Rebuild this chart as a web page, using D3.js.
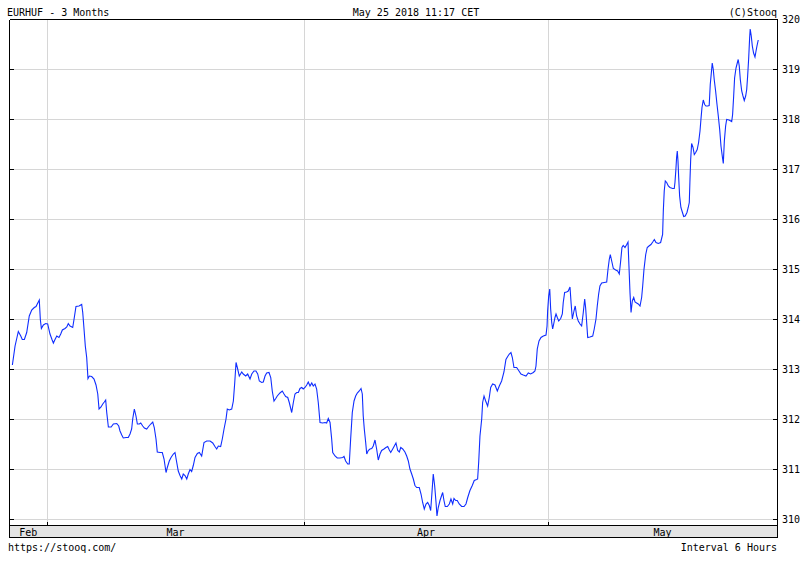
<!DOCTYPE html>
<html><head><meta charset="utf-8">
<script src="https://cdn.jsdelivr.net/npm/d3@7/dist/d3.min.js"></script>
<style>
html,body{margin:0;padding:0;background:#fff;}
svg{display:block;}
text{font-family:"DejaVu Sans Mono",monospace;font-size:10px;fill:#000;}
</style></head><body>
<svg id="chart" width="812" height="563"></svg>
<script>
// ---- texts ----
const title = "EURHUF - 3 Months";
const stamp = "May 25 2018 11:17 CET";
const credit = "(C)Stooq";
const source = "https://stooq.com/";
const interval = "Interval 6 Hours";

// ---- axes data ----
const monthLabels = ["Feb", "Mar", "Apr", "May"];
const monthStartDays = [3, 25, 46];          // trading-day index of Mar 1, Apr 2, May 1
const dayRange = [-0.29, 65.64];              // visible trading-day span
const rateRange = [310, 320];
const rateTicks = [310, 311, 312, 313, 314, 315, 316, 317, 318, 319, 320];

// ---- series (trading-day index, EUR/HUF rate) ----
const days = [
0.00,0.23,0.51,0.72,0.85,1.03,1.23,1.45,1.66,1.88,2.03,2.18,2.31,2.40,2.49,2.66,2.86,3.03,3.23,3.40,
3.52,3.66,3.81,4.00,4.15,4.29,4.52,4.67,4.80,4.95,5.18,5.29,5.46,5.72,5.95,6.04,6.15,6.26,6.38,6.49,
6.61,6.81,7.01,7.18,7.33,7.44,7.61,7.76,7.89,8.01,8.10,8.24,8.48,8.67,8.96,9.13,9.24,9.39,9.52,9.76,
9.95,10.10,10.24,10.33,10.47,10.61,10.73,10.90,11.02,11.19,11.33,11.53,11.73,11.88,12.05,12.18,12.33,12.44,12.67,12.87,
13.02,13.19,13.30,13.47,13.62,13.82,13.96,14.11,14.24,14.39,14.54,14.67,14.82,14.97,15.10,15.25,15.39,15.53,15.68,15.88,
16.05,16.25,16.45,16.68,16.97,17.20,17.39,17.54,17.68,17.88,18.02,18.17,18.34,18.45,18.62,18.83,18.97,19.09,19.20,19.31,
19.48,19.69,19.82,20.03,20.20,20.40,20.55,20.74,20.91,21.06,21.20,21.40,21.54,21.69,21.83,22.03,22.18,22.31,22.46,22.61,
22.74,22.97,23.17,23.32,23.46,23.64,23.77,23.98,24.12,24.26,24.41,24.55,24.69,24.84,24.97,25.12,25.27,25.40,25.55,25.70,
25.83,25.98,26.12,26.26,26.41,26.64,26.84,26.98,27.12,27.27,27.41,27.50,27.70,27.89,28.12,28.36,28.47,28.61,28.79,28.92,
29.04,29.18,29.33,29.47,29.61,29.78,29.93,30.04,30.12,30.21,30.33,30.42,30.55,30.70,30.85,30.98,31.13,31.27,31.41,31.56,
31.70,31.90,32.07,32.22,32.36,32.48,32.65,32.79,32.93,33.08,33.22,33.34,33.51,33.70,33.85,33.99,34.13,34.28,34.42,34.56,
34.71,34.93,35.08,35.22,35.36,35.51,35.65,35.79,35.91,36.02,36.13,36.25,36.37,36.45,36.56,36.71,36.85,36.94,37.05,37.16,
37.34,37.51,37.65,37.80,37.91,38.06,38.19,38.36,38.57,38.77,38.94,39.09,39.28,39.48,39.65,39.86,39.94,40.03,40.14,40.29,
40.37,40.49,40.63,40.80,40.94,41.06,41.23,41.43,41.63,41.80,42.00,42.20,42.37,42.52,42.66,42.80,42.92,43.06,43.29,43.49,
43.66,43.86,44.09,44.29,44.49,44.72,44.86,44.95,45.06,45.21,45.38,45.58,45.81,45.90,45.95,46.04,46.13,46.21,46.30,46.38,
46.47,46.58,46.67,46.78,46.90,47.07,47.21,47.29,47.41,47.58,47.72,47.87,47.96,48.07,48.21,48.32,48.44,48.58,48.73,48.87,
49.01,49.13,49.21,49.30,49.39,49.58,49.82,49.95,50.10,50.21,50.33,50.44,50.59,50.81,51.02,51.13,51.24,51.33,51.45,51.59,
51.79,51.96,52.10,52.22,52.33,52.44,52.59,52.74,52.85,52.93,53.02,53.11,53.22,53.34,53.45,53.59,53.73,53.88,54.02,54.11,
54.22,54.37,54.50,54.65,54.82,54.97,55.11,55.25,55.45,55.65,55.82,55.88,55.96,56.05,56.17,56.31,56.45,56.68,56.82,56.88,
56.96,57.02,57.08,57.14,57.20,57.28,57.39,57.51,57.63,57.76,57.91,58.02,58.11,58.17,58.23,58.31,58.43,58.54,58.66,58.79,
58.91,59.03,59.11,59.20,59.31,59.43,59.54,59.69,59.82,59.91,60.03,60.08,60.17,60.25,60.37,60.49,60.60,60.72,60.83,60.94,
61.03,61.12,61.23,61.32,61.52,61.75,61.83,61.92,62.00,62.12,62.23,62.31,62.40,62.49,62.61,62.72,62.83,62.95,63.04,63.12,
63.21,63.29,63.34,63.43,63.52,63.63,63.75,63.84,63.92,64.03
];
const rates = [
313.09,313.47,313.76,313.67,313.60,313.60,313.74,314.07,314.19,314.24,314.26,314.33,314.39,314.00,313.82,313.89,313.92,313.91,313.71,313.60,
313.53,313.60,313.67,313.64,313.71,313.79,313.82,313.85,313.92,313.87,313.84,314.00,314.26,314.27,314.30,314.14,313.81,313.47,313.24,312.82,
312.87,312.86,312.81,312.69,312.51,312.21,312.25,312.31,312.35,312.39,312.14,311.85,311.85,311.91,311.92,311.87,311.77,311.69,311.63,311.64,
311.64,311.71,311.81,312.01,312.21,312.07,311.91,311.91,311.93,311.87,311.83,311.81,311.87,311.91,311.95,311.84,311.61,311.35,311.34,311.34,
311.21,310.94,311.04,311.17,311.24,311.31,311.34,311.14,310.97,310.88,310.81,310.91,310.88,310.81,310.91,311.00,310.96,311.08,311.24,311.32,
311.34,311.27,311.54,311.57,311.57,311.53,311.46,311.41,311.47,311.46,311.61,311.81,312.01,312.21,312.19,312.21,312.37,312.74,313.14,313.04,
312.87,312.95,312.91,312.87,312.91,312.81,312.91,312.97,312.97,312.91,312.77,312.74,312.75,312.87,312.93,312.94,312.84,312.57,312.37,312.42,
312.47,312.53,312.57,312.51,312.46,312.44,312.34,312.14,312.34,312.51,312.54,312.54,312.62,312.64,312.61,312.64,312.69,312.75,312.67,312.73,
312.67,312.71,312.61,312.34,311.94,311.93,311.94,311.93,312.02,311.94,311.61,311.34,311.27,311.23,311.23,311.24,311.26,311.17,311.11,311.11,
311.61,312.14,312.37,312.47,312.53,312.57,312.62,312.51,312.07,311.81,311.54,311.31,311.38,311.41,311.42,311.47,311.59,311.41,311.19,311.31,
311.38,311.41,311.44,311.46,311.39,311.34,311.41,311.47,311.53,311.38,311.35,311.44,311.41,311.35,311.27,311.17,311.01,310.91,310.81,310.68,
310.64,310.64,310.51,310.34,310.21,310.31,310.34,310.28,310.18,310.54,310.91,310.68,310.34,310.07,310.24,310.38,310.48,310.54,310.38,310.26,
310.26,310.31,310.41,310.31,310.42,310.38,310.38,310.31,310.26,310.26,310.31,310.44,310.58,310.68,310.78,310.80,310.81,311.14,311.67,312.01,
312.34,312.47,312.37,312.27,312.44,312.64,312.71,312.69,312.57,312.67,312.77,312.95,313.20,313.26,313.31,313.34,313.24,313.04,313.04,312.97,
312.91,312.89,312.87,312.93,312.91,312.94,312.97,313.07,313.41,313.57,313.64,313.67,313.69,313.87,314.17,314.47,314.61,314.21,313.94,313.81,
313.91,314.04,314.11,314.04,313.97,314.02,314.11,314.34,314.54,314.55,314.57,314.65,314.34,314.01,314.17,314.27,314.07,313.97,313.91,313.87,
314.14,314.41,314.24,313.94,313.64,313.65,313.67,313.81,314.01,314.27,314.51,314.67,314.73,314.74,314.75,315.00,315.20,315.30,315.17,315.02,
314.99,314.97,314.91,315.17,315.44,315.48,315.44,315.50,315.55,315.07,314.54,314.14,314.37,314.44,314.35,314.33,314.31,314.27,314.44,314.67,
315.00,315.30,315.44,315.47,315.50,315.55,315.60,315.54,315.52,315.54,315.70,316.17,316.57,316.77,316.74,316.67,316.64,316.62,316.62,316.74,
317.00,317.24,317.37,317.17,316.84,316.47,316.24,316.15,316.06,316.07,316.14,316.24,316.34,316.80,317.20,317.52,317.44,317.30,317.34,317.40,
317.54,317.77,318.00,318.24,318.39,318.30,318.27,318.27,318.28,318.70,319.00,319.13,319.00,318.80,318.57,318.30,318.07,317.80,317.47,317.27,
317.12,317.57,317.87,318.00,317.99,317.96,318.10,318.47,318.83,319.03,319.13,319.20,319.07,318.80,318.57,318.47,318.38,318.47,318.60,318.87,
319.23,319.63,319.81,319.67,319.47,319.33,319.25,319.37,319.47,319.59
];

// ---- drawing ----
const svg = d3.select("#chart");
const L = 9, R = 777, T = 19, B = 525, bandB = 537;
const x = d3.scaleLinear().domain(dayRange).range([L, R]);
const y = d3.scaleLinear().domain(rateRange).range([B - 5.5, T + 0.5]);
const px = v => Math.round(v) + 0.5;

svg.append("rect").attr("x", 0).attr("y", 0).attr("width", 812).attr("height", 563).attr("fill", "#fff");

// month band
svg.append("rect").attr("x", L + 0.5).attr("y", B + 0.5).attr("width", R - L).attr("height", bandB - B)
  .attr("fill", "#e4e4e4");

// horizontal gridlines
svg.append("g").selectAll("line").data(rateTicks.filter(t => t < rateRange[1])).join("line")
  .attr("x1", L + 1).attr("x2", R)
  .attr("y1", d => px(y(d) - 0.5)).attr("y2", d => px(y(d) - 0.5))
  .attr("stroke", "#d6d6d6").attr("stroke-width", 1).attr("shape-rendering", "crispEdges");

// vertical gridlines at month starts
svg.append("g").selectAll("line").data(monthStartDays).join("line")
  .attr("x1", d => px(x(d))).attr("x2", d => px(x(d)))
  .attr("y1", T + 1).attr("y2", B)
  .attr("stroke", "#d6d6d6").attr("stroke-width", 1).attr("shape-rendering", "crispEdges");

// price line
const line = d3.line().x(i => x(days[i])).y(i => y(rates[i]));
svg.append("path").datum(d3.range(days.length)).attr("d", line)
  .attr("fill", "none").attr("stroke", "#0f2dff").attr("stroke-width", 1.1)
  .attr("stroke-linejoin", "miter");

// frame
const frame = svg.append("g").attr("stroke", "#000").attr("stroke-width", 1).attr("shape-rendering", "crispEdges");
frame.append("line").attr("x1", L + 0.5).attr("x2", R + 0.5).attr("y1", T + 0.5).attr("y2", T + 0.5);
frame.append("line").attr("x1", L + 0.5).attr("x2", R + 0.5).attr("y1", B + 0.5).attr("y2", B + 0.5);
frame.append("line").attr("x1", L + 0.5).attr("x2", R + 0.5).attr("y1", bandB + 0.5).attr("y2", bandB + 0.5);
frame.append("line").attr("x1", L + 0.5).attr("x2", L + 0.5).attr("y1", T + 0.5).attr("y2", bandB + 0.5);
frame.append("line").attr("x1", R + 0.5).attr("x2", R + 0.5).attr("y1", T + 0.5).attr("y2", bandB + 0.5);

// value ticks, both sides inside
frame.append("g").selectAll("line").data(rateTicks).join("line")
  .attr("x1", L + 0.5).attr("x2", L + 5)
  .attr("y1", d => px(y(d) - 0.5)).attr("y2", d => px(y(d) - 0.5));
frame.append("g").selectAll("line").data(rateTicks).join("line")
  .attr("x1", R - 4).attr("x2", R + 0.5)
  .attr("y1", d => px(y(d) - 0.5)).attr("y2", d => px(y(d) - 0.5));
// month ticks
frame.append("g").selectAll("line").data(monthStartDays).join("line")
  .attr("x1", d => px(x(d))).attr("x2", d => px(x(d)))
  .attr("y1", B - 3).attr("y2", B + 0.5);

// right axis labels
svg.append("g").selectAll("text").data(rateTicks).join("text")
  .attr("x", R + 5).attr("y", d => y(d)).attr("dy", "0.36em")
  .text(d => d);

// month labels centred in their spans
const bounds = [dayRange[0], ...monthStartDays, dayRange[1]];
svg.append("g").selectAll("text").data(monthLabels).join("text")
  .attr("x", (d, i) => (x(bounds[i]) + x(bounds[i + 1])) / 2)
  .attr("y", bandB - 1.5).attr("text-anchor", "middle").text(d => d);

// header / footer
svg.append("text").attr("x", 7).attr("y", 16).text(title);
svg.append("text").attr("x", 416).attr("y", 16).attr("text-anchor", "middle").text(stamp);
svg.append("text").attr("x", R).attr("y", 16).attr("text-anchor", "end").text(credit);
svg.append("text").attr("x", 8).attr("y", 551).text(source);
svg.append("text").attr("x", R).attr("y", 551).attr("text-anchor", "end").text(interval);
</script>
</body></html>
